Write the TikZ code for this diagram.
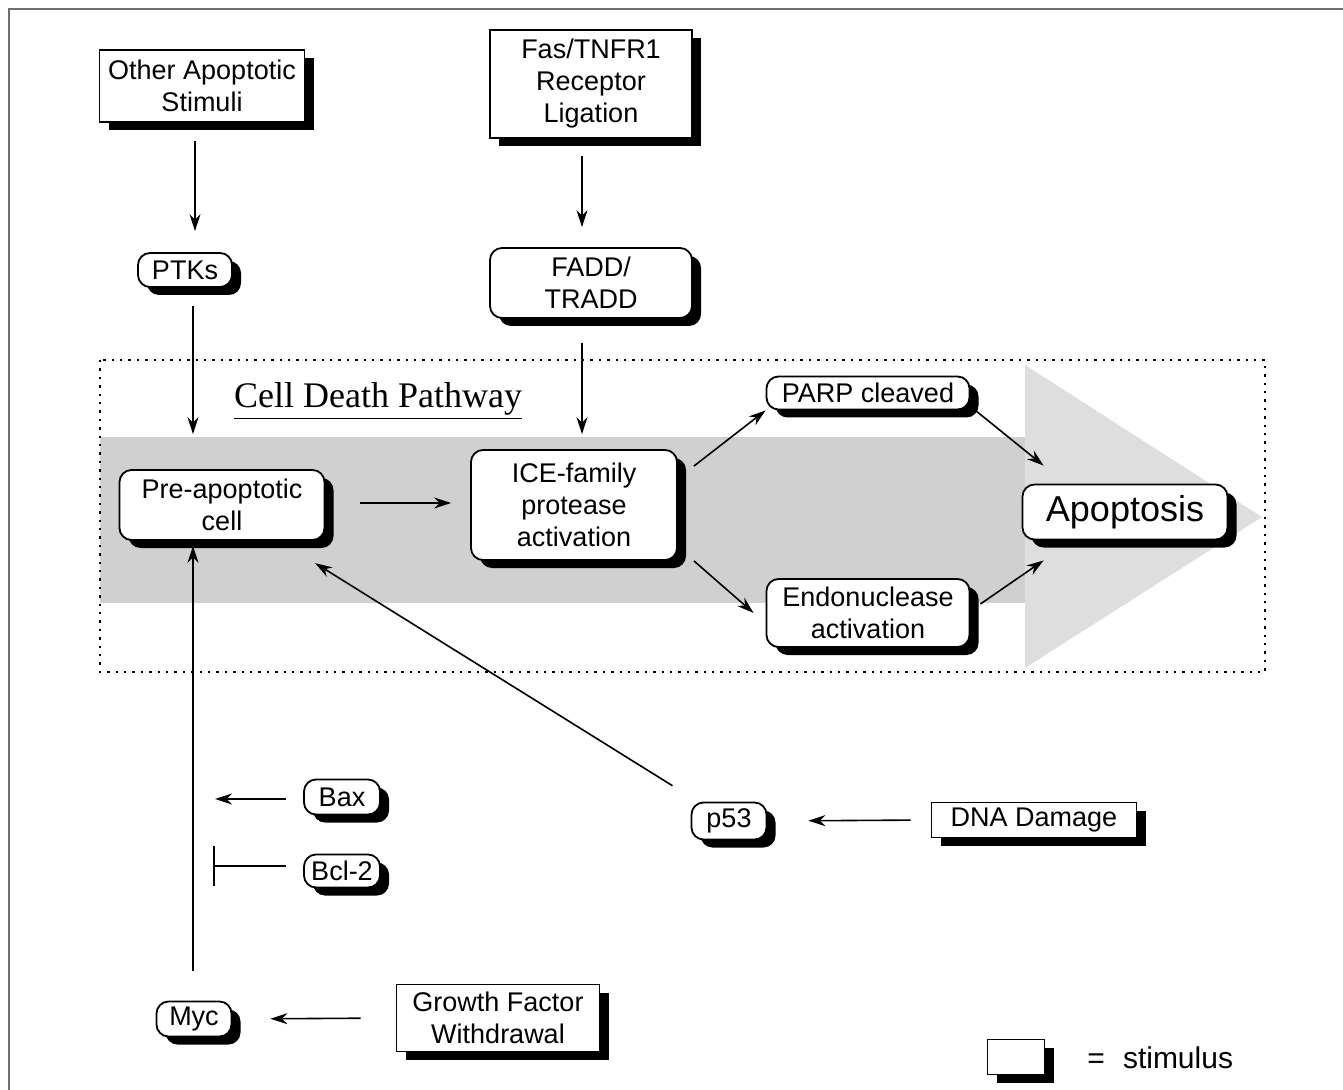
\documentclass[tikz,border=0pt]{standalone}
\usepackage{fontspec}
\setmainfont{Liberation Sans}
\newfontfamily\titlefont{Liberation Serif}
\usetikzlibrary{arrows.meta,shadows}
\definecolor{band_gray}{RGB}{208,208,208}
\definecolor{head_gray}{RGB}{222,222,222}
\definecolor{frame_gray}{RGB}{110,110,110}

\begin{document}
\begin{tikzpicture}[x=0.5pt,y=-0.5pt,->,>={Stealth[length=8.5pt,width=5.5pt]},line width=0.8pt]
    \tikzstyle{box}=[draw=black, line width=0.9pt, fill=white, align=center, inner sep=0pt, text=black,
                     font=\fontsize{13.5}{16}\selectfont,
                     drop shadow={shadow xshift=4.5pt, shadow yshift=-4pt, fill=black, opacity=1}]
    \tikzstyle{stim}=[style=box, rectangle]
    \tikzstyle{proc}=[style=box, rounded corners=6pt]

    \path[use as bounding box] (0,0) rectangle (1343,1090);
    \draw[-, frame_gray, line width=1pt] (9,1090) -- (9,9) -- (1343,9);

    % pathway arrow and frame
    \fill[band_gray] (100,437) rectangle (1025,603);
    \fill[head_gray] (1025,365) -- (1262,517) -- (1025,668) -- cycle;
    \draw[-, dash pattern=on 1.2pt off 3pt, line width=1pt] (100,360) rectangle (1265,672);
    \node[font=\titlefont\fontsize{18}{20}\selectfont] (title) at (378,401) {\underline{Cell Death Pathway}};

    % stimuli
    \node[stim, minimum width=102.5pt, minimum height=36pt]   (other)  at (202,86)   {Other Apoptotic\\Stimuli};
    \node[stim, minimum width=101pt,   minimum height=54pt]   (fas)    at (591,84)   {Fas/TNFR1\\Receptor\\Ligation};
    \node[stim, minimum width=102.5pt, minimum height=17.5pt] (dna)    at (1034,820) {DNA Damage};
    \node[stim, minimum width=101.5pt, minimum height=33.5pt] (growth) at (498,1018) {Growth Factor\\Withdrawal};

    % signalling steps
    \node[proc, minimum width=47pt,    minimum height=17pt]   (ptks)  at (185,270)  {PTKs};
    \node[proc, minimum width=101pt,   minimum height=35pt]   (fadd)  at (591,283)  {FADD/\\TRADD};
    \node[proc, minimum width=102.5pt, minimum height=35pt]   (pre)   at (222,505)  {Pre-apoptotic\\cell};
    \node[proc, minimum width=103pt,   minimum height=55pt]   (ice)   at (574,505)  {ICE-family\\protease\\activation};
    \node[proc, minimum width=101.5pt, minimum height=16.5pt] (parp)  at (868,393)  {PARP cleaved};
    \node[proc, minimum width=101.5pt, minimum height=34pt]   (endo)  at (868,613)  {Endonuclease\\activation};
    \node[proc, minimum width=102.5pt, minimum height=27.5pt, font=\fontsize{18}{20}\selectfont] (apop) at (1125,512) {Apoptosis};
    \node[proc, minimum width=38pt,    minimum height=17.5pt] (bax)   at (342,797)  {Bax};
    \node[proc, minimum width=38pt,    minimum height=16.5pt] (bcl)   at (342,871)  {Bcl-2};
    \node[proc, minimum width=37.5pt,  minimum height=18.5pt] (p53)   at (729,821)  {p53};
    \node[proc, minimum width=37.5pt,  minimum height=17.5pt] (myc)   at (194,1019) {Myc};

    % legend
    \node[stim, minimum width=28.5pt, minimum height=17.5pt] (legend) at (1016,1057) {};
    \node[anchor=west, font=\fontsize{15}{17}\selectfont] (legendtext) at (1080,1058) {=\hspace{9pt}stimulus};

    \coordinate (baxend) at (215,799);
    \coordinate (bclend) at (213,866);

    \path
     ([xshift=-3.5pt]other.south) edge[shorten <=9pt, shorten >=10.5pt] ([xshift=5pt]ptks.north)
     ([xshift=4pt]ptks.south)     edge[shorten <=9pt, shorten >=17.5pt] ([xshift=-14.5pt]pre.north)
     ([xshift=-4.5pt]fas.south)   edge[shorten <=8.5pt, shorten >=10pt] ([xshift=-4.5pt]fadd.north)
     ([xshift=-4.5pt]fadd.south)  edge[shorten <=12pt, shorten >=7.5pt] ([xshift=4pt]ice.north)
     ([yshift=1pt]pre.east)       edge[shorten <=17.5pt, shorten >=9.5pt] ([yshift=1pt]ice.west)
     ([xshift=8pt,yshift=-8.5pt]ice.north east) edge (parp.south west)
     ([xshift=8pt]ice.south east) edge ([xshift=-6pt]endo.west)
     ([xshift=2.5pt]parp.south east) edge ([xshift=11pt,yshift=9pt]apop.north west)
     ([xshift=5pt,yshift=4.5pt]endo.east) edge ([xshift=11pt,yshift=-10pt]apop.south west)
     (p53)                        edge[shorten <=15pt, shorten >=21pt] (pre)
     ([xshift=-0.5pt]myc.north)   edge[shorten <=15pt, shorten >=2.5pt] ([xshift=-14.5pt]pre.south)
     ([yshift=-1pt]bax.west)      edge[shorten <=8.5pt] (baxend)
     ([yshift=2.5pt]bcl.west)     edge[-{Bar[width=20pt]}, shorten <=8.5pt] (bclend)
     (dna.west)                   edge[shorten <=10pt, shorten >=20.5pt] (p53.east)
     (growth.west)                edge[shorten <=17.5pt, shorten >=19pt] (myc.east)
     ;
\end{tikzpicture}
\end{document}
